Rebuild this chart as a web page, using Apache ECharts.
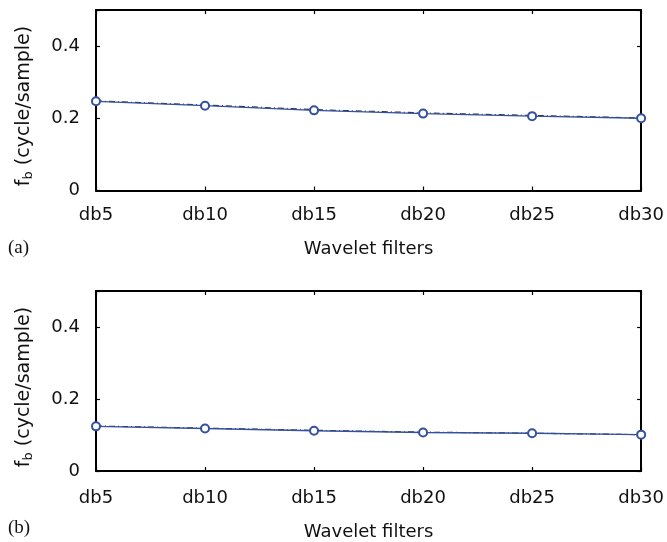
<!DOCTYPE html>
<html>
<head>
<meta charset="utf-8">
<script src="https://cdn.jsdelivr.net/npm/echarts@6/dist/echarts.min.js"></script>
<style>
  html, body { margin: 0; padding: 0; background: #fff; }
  #chart { width: 667px; height: 542px; }
</style>
</head>
<body>
<div id="chart"></div>
<script>
// Daubechies filter lengths on the x axis
const filters = ['db5', 'db10', 'db15', 'db20', 'db25', 'db30'];

// Panel (a): boundary frequency per filter
const fbA = [0.247, 0.235, 0.222, 0.213, 0.206, 0.200];
const fbAref = [0.248, 0.237, 0.224, 0.215, 0.208, 0.201];

// Panel (b): boundary frequency per filter
const fbB = [0.124, 0.118, 0.112, 0.107, 0.105, 0.101];
const fbBref = [0.125, 0.119, 0.113, 0.108, 0.105, 0.101];

const yTicks = [0, 0.2, 0.4];
const panelLabels = ['(a)', '(b)'];

const FONT = '"DejaVu Sans", "Liberation Sans", Arial, sans-serif';
const SERIF = '"Liberation Serif", "Times New Roman", serif';
const BLUE = '#34509f';

const grids = [
  { left: 96, top: 10, width: 546, height: 180.5 },
  { left: 96, top: 291, width: 546, height: 181 }
];

function xAxisPair(gi, labelMargin, nameGap) {
  const base = {
    type: 'category', data: filters, gridIndex: gi, boundaryGap: false,
    axisLine: { show: true, onZero: false, lineStyle: { color: '#000', width: 2 } },
    axisTick: { show: true, inside: true, length: 4, lineStyle: { color: '#000', width: 1.2 } },
    splitLine: { show: false }
  };
  return [
    Object.assign({}, base, {
      position: 'bottom',
      name: 'Wavelet filters', nameLocation: 'middle', nameGap: nameGap,
      nameTextStyle: { fontFamily: FONT, fontSize: 18, color: '#111' },
      axisLabel: { fontFamily: FONT, fontSize: 18, color: '#111', margin: labelMargin }
    }),
    Object.assign({}, base, { position: 'top', axisLabel: { show: false } })
  ];
}

function yAxisPair(gi) {
  const base = {
    type: 'value', gridIndex: gi, min: 0, max: 0.5, interval: 0.2,
    axisLine: { show: true, lineStyle: { color: '#000', width: 2 } },
    axisTick: { show: true, inside: true, length: 4, lineStyle: { color: '#000', width: 1.2 } },
    splitLine: { show: false }
  };
  return [
    Object.assign({}, base, {
      position: 'left',
      axisLabel: {
        fontFamily: FONT, fontSize: 18, color: '#111', margin: 16,
        formatter: v => {
          const r = Math.round(v * 10) / 10;
          return yTicks.indexOf(r) >= 0 ? String(r) : '';
        }
      }
    }),
    Object.assign({}, base, { position: 'right', axisLabel: { show: false } })
  ];
}

function lineSeries(gi, main, ref) {
  return [
    {
      type: 'line', xAxisIndex: gi * 2, yAxisIndex: gi * 2, data: ref,
      symbol: 'none', silent: true, z: 2,
      lineStyle: { color: '#333', width: 1.2, type: [6, 3, 1, 3] }
    },
    {
      type: 'line', xAxisIndex: gi * 2, yAxisIndex: gi * 2, data: main,
      symbol: 'emptyCircle', symbolSize: 8, z: 3,
      lineStyle: { color: BLUE, width: 1.4 },
      itemStyle: { color: BLUE, borderColor: BLUE, borderWidth: 1.7 }
    }
  ];
}

function yTitle(cy) {
  return {
    type: 'text', rotation: Math.PI / 2, x: 24, y: cy,
    style: {
      text: '{f|f}{s|b}{f| (cycle/sample)}', align: 'center', verticalAlign: 'middle',
      rich: {
        f: { fontFamily: FONT, fontSize: 19, fill: '#111' },
        s: { fontFamily: FONT, fontSize: 13, fill: '#111', padding: [10, 0, 0, 0] }
      }
    }
  };
}

function panelLabel(text, cy) {
  return {
    type: 'text', x: 8, y: cy,
    style: { text: text, font: '19px ' + SERIF, fill: '#111', verticalAlign: 'middle' }
  };
}

const chart = echarts.init(document.getElementById('chart'), null, { renderer: 'canvas' });
chart.setOption({
  backgroundColor: '#fff',
  animation: false,
  grid: grids.map(g => Object.assign({ show: false, containLabel: false }, g)),
  xAxis: [].concat(xAxisPair(0, 16, 50), xAxisPair(1, 18, 52)),
  yAxis: [].concat(yAxisPair(0), yAxisPair(1)),
  series: [].concat(lineSeries(0, fbA, fbAref), lineSeries(1, fbB, fbBref)),
  graphic: [
    panelLabel(panelLabels[0], 248),
    panelLabel(panelLabels[1], 528),
    yTitle(106),
    yTitle(387)
  ]
});
</script>
</body>
</html>
